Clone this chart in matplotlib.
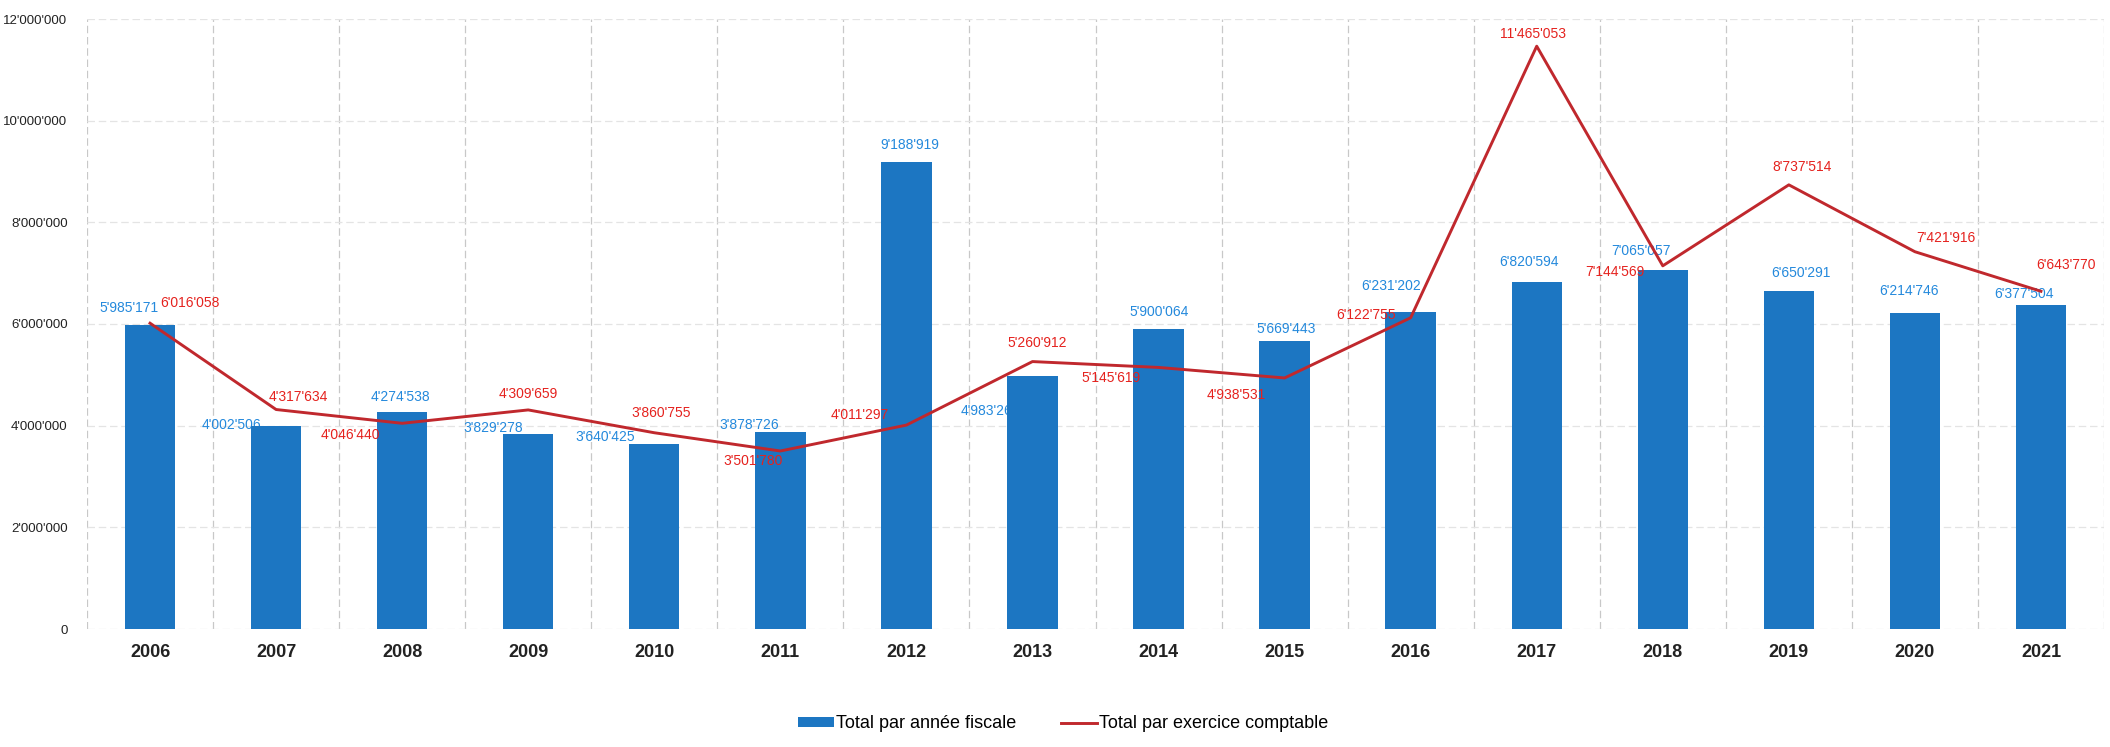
import numpy as np
import matplotlib
matplotlib.use("Agg")
import matplotlib.pyplot as plt
from matplotlib.lines import Line2D
from matplotlib.patches import Patch

plt.rcParams['font.family'] = ['Liberation Sans Narrow', 'Liberation Sans', 'DejaVu Sans']

# données
years = ["2006", "2007", "2008", "2009", "2010", "2011", "2012", "2013",
         "2014", "2015", "2016", "2017", "2018", "2019", "2020", "2021"]
annee_fiscale = [5985171, 4002506, 4274538, 3829278, 3640425, 3878726, 9188919, 4983260,
                 5900064, 5669443, 6231202, 6820594, 7065057, 6650291, 6214746, 6377504]
exercice_comptable = [6016058, 4317634, 4046440, 4309659, 3860755, 3501780, 4011297, 5260912,
                      5145619, 4938531, 6122755, 11465053, 7144569, 8737514, 7421916, 6643770]
y_ticks = [0, 2000000, 4000000, 6000000, 8000000, 10000000, 12000000]

# décalages des étiquettes (pixels)
bar_off = [(-21, 17), (-45, 1), (-2, 15), (-35, 6), (-49, 7), (-31, 7), (3, 17), (-42, -35),
           (1, 17), (2, 12), (-20, 26), (-8, 20), (-22, 19), (12, 18), (-6, 22), (-17, 11)]
line_off = [(40, 20), (22, 13), (-52, -12), (0, 16), (7, 20), (-27, -10), (-47, 10), (5, 19),
            (-48, -11), (-48, -17), (-45, 3), (-4, 12), (-48, -6), (13, 18), (31, 14), (25, 26)]

BLUE = "#1c76c2"
BLUE_TXT = "#2489dc"
RED = "#c0282d"
RED_TXT = "#e5221e"


def fmt(v):
    return f"{v:,.0f}".replace(",", "'")


fig = plt.figure(figsize=(21.1, 7.47), dpi=100)
ax = fig.add_axes([87 / 2110, 1 - 629 / 747, (2104 - 87) / 2110, (629 - 19) / 747])

x = np.arange(len(years))
ax.bar(x, annee_fiscale, width=0.4, color=BLUE, zorder=2)
ax.plot(x, exercice_comptable, color=RED, lw=2.1, zorder=3)

for i in range(len(years)):
    ax.annotate(fmt(annee_fiscale[i]), (x[i], annee_fiscale[i]), xytext=bar_off[i],
                textcoords="offset pixels", ha="center", va="center",
                fontsize=10, color=BLUE_TXT, zorder=1)
    ax.annotate(fmt(exercice_comptable[i]), (x[i], exercice_comptable[i]), xytext=line_off[i],
                textcoords="offset pixels", ha="center", va="center",
                fontsize=10, color=RED_TXT, zorder=4)

ax.set_xlim(-0.5, len(years) - 0.5)
ax.set_ylim(0, 12000000)
ax.set_yticks(y_ticks)
ax.set_yticklabels([fmt(v) for v in y_ticks], fontsize=9.5, color="#222222")
ax.set_xticks(x)
ax.set_xticklabels(years, fontsize=13, fontweight="bold", color="#222222")
ax.set_xticks(np.arange(-0.5, len(years), 1), minor=True)
ax.tick_params(axis="both", which="both", length=0)
ax.tick_params(axis="y", pad=14)
ax.tick_params(axis="x", pad=11)

ax.grid(axis="x", which="minor", color="#c8c8c8", ls=(0, (6, 3)), lw=0.9)
ax.grid(axis="y", which="major", color="#e4e4e4", ls=(0, (6, 3)), lw=0.9)
ax.set_axisbelow(True)
for s in ax.spines.values():
    s.set_visible(False)

handles = [Patch(facecolor=BLUE, edgecolor="none"),
           Line2D([0], [0], color=RED, lw=2.1)]
fig.legend(handles, ["Total par année fiscale", "Total par exercice comptable"],
           loc="center", bbox_to_anchor=(1063 / 2110, 1 - 724 / 747), ncol=2,
           frameon=False, fontsize=13, handlelength=2.0, handleheight=0.5,
           handletextpad=0.1, columnspacing=2.5)

fig.savefig("out.png", dpi=100)
